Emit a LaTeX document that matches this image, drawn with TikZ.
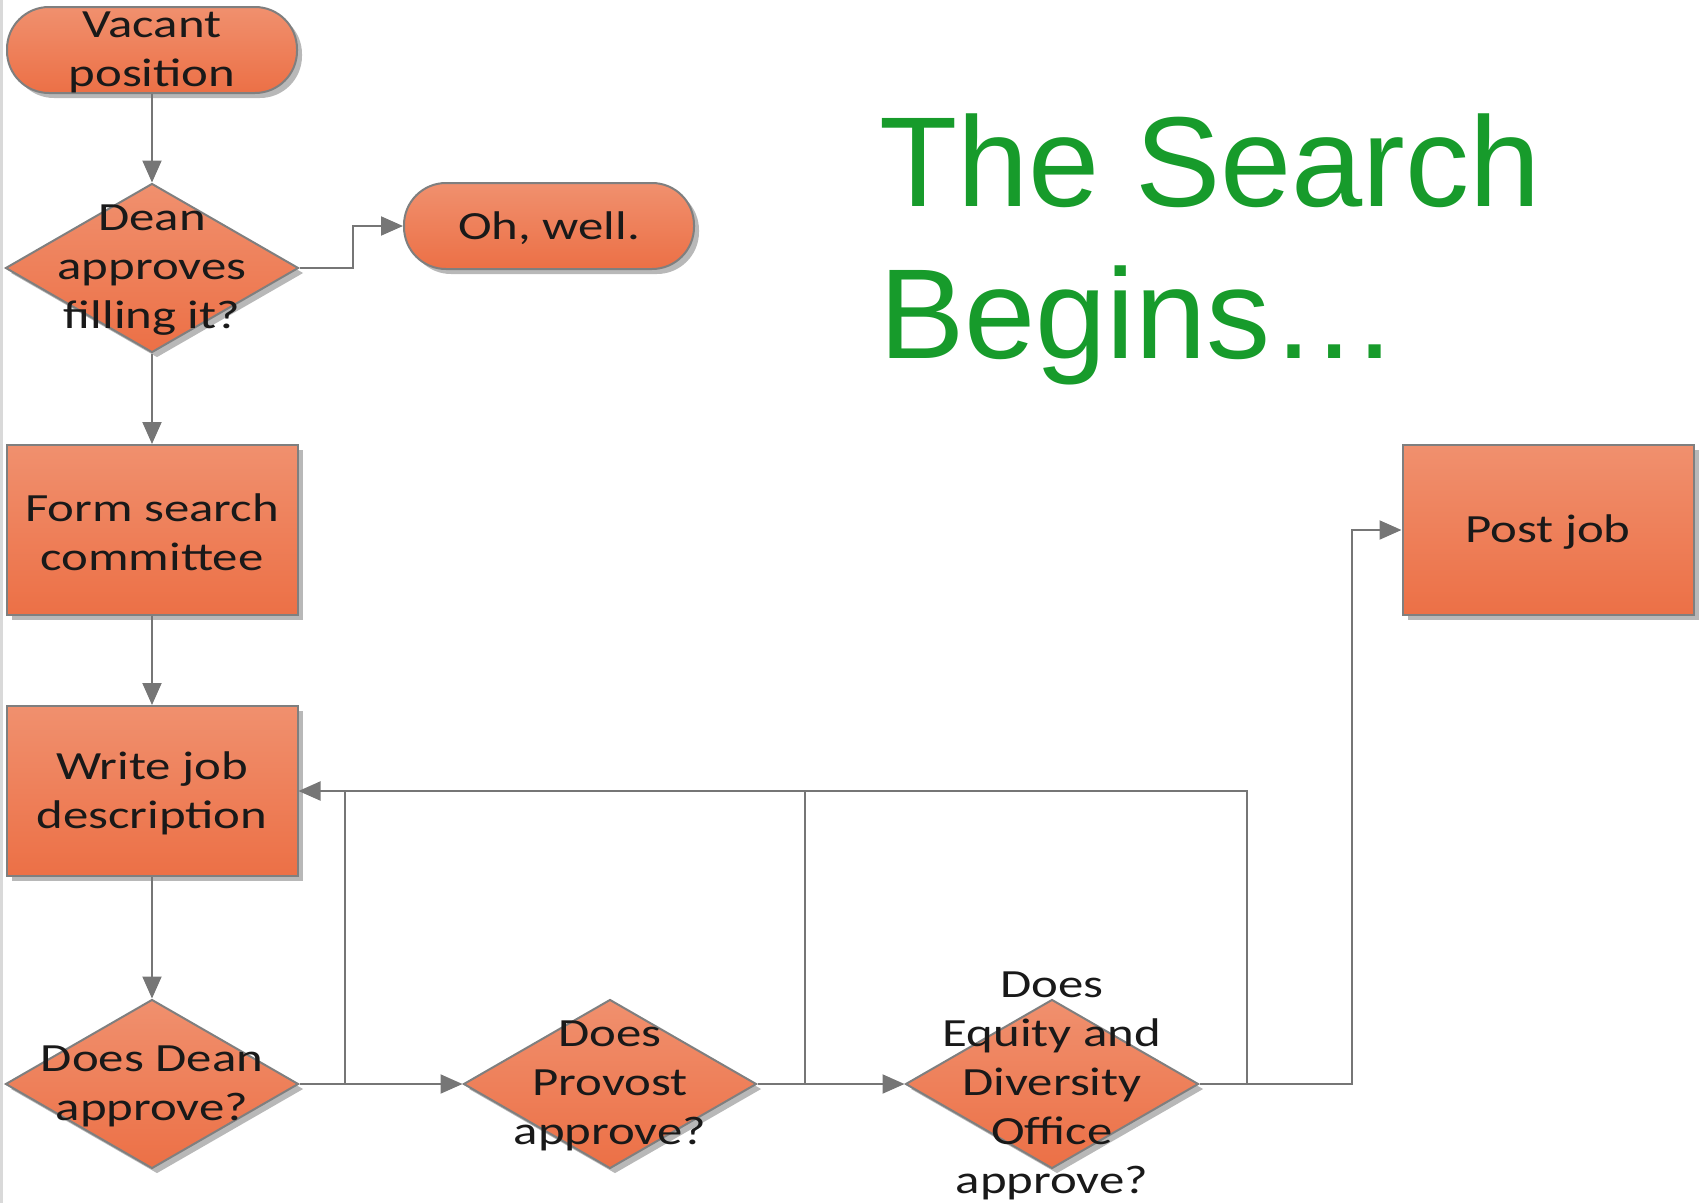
\documentclass[tikz,border=0pt]{standalone}
\usepackage{fontspec}
\usetikzlibrary{shapes.geometric,arrows.meta,shadows}
\newfontfamily\boxfont[FakeStretch=1.27]{Carlito}
\newfontfamily\titlefont{Liberation Sans}
\definecolor{otop}{HTML}{F0906E}
\definecolor{obot}{HTML}{EC7046}
\definecolor{oborder}{HTML}{7F7F7F}
\definecolor{lnc}{HTML}{767676}
\definecolor{ttl}{HTML}{179B2B}
\tikzset{
  shp/.style={draw=oborder, line width=2pt, top color=otop, bottom color=obot,
    drop shadow={shadow xshift=5pt, shadow yshift=-5pt, fill=black!28, opacity=1},
    inner sep=0pt},
  stadium/.style={shp, rectangle, rounded corners=42pt, minimum width=290pt, minimum height=86pt},
  procbox/.style={shp, rectangle, minimum width=291pt, minimum height=170pt},
  decis/.style={shp, diamond, minimum width=293pt, minimum height=169pt},
  txt/.style={font=\boxfont\fontsize{40}{49}\selectfont, align=center, text=black!90, inner sep=0pt},
  conn/.style={draw=lnc, line width=2pt},
  arr/.style={conn, -{Triangle[length=22pt,width=19pt]}},
  ttlstyle/.style={font=\titlefont\fontsize{128}{152}\selectfont, text=ttl, inner sep=0pt, anchor=base west}
}
\begin{document}
\begin{tikzpicture}[x=1pt,y=-1pt]
\useasboundingbox (0,0) rectangle (1700,1203);
\fill[black!15] (0,0) rectangle (3,1203);

% shapes
\node[stadium] (vac) at (152,50) {};
\node[decis] (dean1) at (152,268) {};
\node[stadium] (oh) at (549,226) {};
\node[procbox] (form) at (152,530) {};
\node[procbox] (write) at (152,791) {};
\node[decis] (dean2) at (152,1084) {};
\node[decis] (prov) at (610,1084) {};
\node[decis] (eq) at (1052,1084) {};
\node[procbox] (post) at (1548,530) {};

% connectors
\coordinate (k1) at (353,268);
\coordinate (j1) at (345,1084);
\coordinate (j2) at (805,1084);
\coordinate (j3) at (1247,1084);
\coordinate (j4) at (1352,1084);
\draw[arr] (vac.south) -- (dean1.north);
\draw[arr] (dean1.east) -- (k1) |- (oh.west);
\draw[arr] (dean1.south) -- (form.north);
\draw[arr] (form.south) -- (write.north);
\draw[arr] (write.south) -- (dean2.north);
\draw[arr] (dean2.east) -- (prov.west);
\draw[arr] (prov.east) -- (eq.west);
\draw[arr] (eq.east) -- (j4) |- (post.west);
\draw[arr] (j3) |- (write.east);
\draw[conn] (j1) -- (j1 |- write.east);
\draw[conn] (j2) -- (j2 |- write.east);

% texts
\node[txt] (tvac) at ([yshift=-2pt]vac.center) {Vacant\\position};
\node[txt] (tdean1) at ([yshift=-2pt]dean1.center) {Dean\\approves\\filling it?};
\node[txt] (toh) at ([yshift=-2pt]oh.center) {Oh, well.};
\node[txt] (tform) at ([yshift=-2pt]form.center) {Form search\\committee};
\node[txt] (twrite) at ([yshift=-2pt]write.center) {Write job\\description};
\node[txt] (tdean2) at ([yshift=-2pt]dean2.center) {Does Dean\\approve?};
\node[txt] (tprov) at ([yshift=-2pt]prov.center) {Does\\Provost\\approve?};
\node[txt] (teq) at ([yshift=-2pt]eq.center) {Does\\Equity and\\Diversity\\Office\\approve?};
\node[txt] (tpost) at ([yshift=-2pt]post.center) {Post job};

% title
\node[ttlstyle] (title1) at (879,206) {The Search};
\node[ttlstyle] (title2) at (879,358) {Begins\ldots};
\end{tikzpicture}
\end{document}
